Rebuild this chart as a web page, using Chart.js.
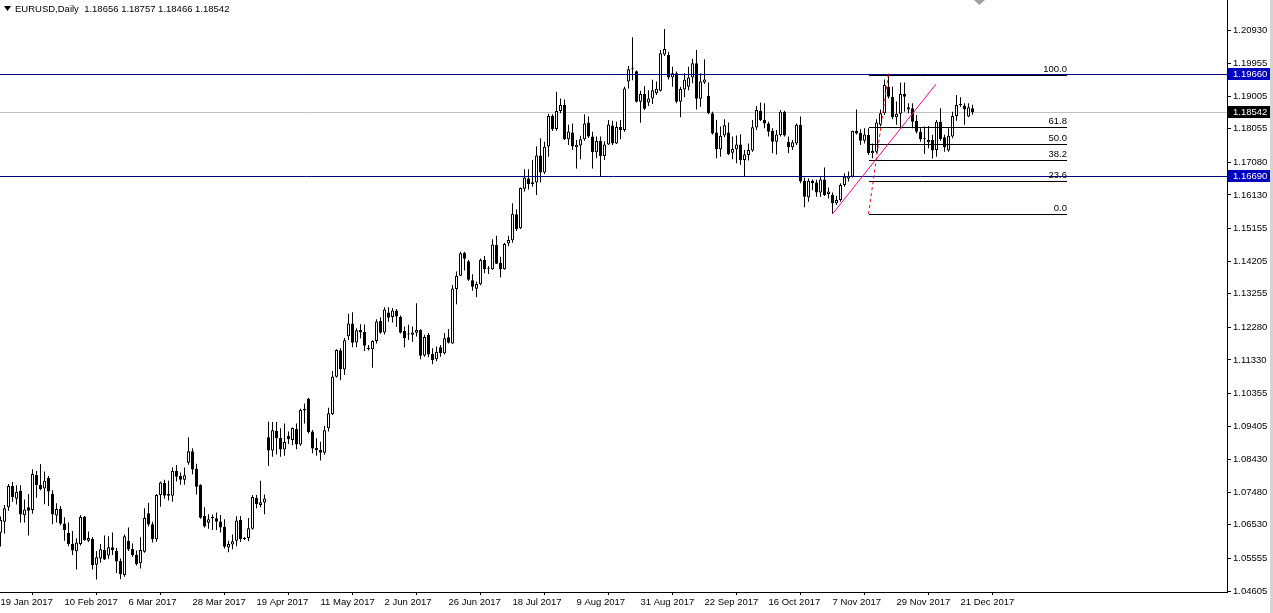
<!DOCTYPE html>
<html>
<head>
<meta charset="utf-8">
<script src="https://cdn.jsdelivr.net/npm/chart.js@4.4.1/dist/chart.umd.min.js"></script>
<style>
  html, body { margin: 0; padding: 0; background: #fff; }
</style>
</head>
<body>
<canvas id="chart" width="1273" height="613"></canvas>
<script>
// EURUSD daily bars, one row per 16 bars (row starts at the date in tickLabels)
const tickLabels = ['19 Jan 2017', '10 Feb 2017', '6 Mar 2017', '28 Mar 2017', '19 Apr 2017', '11 May 2017',
  '2 Jun 2017', '26 Jun 2017', '18 Jul 2017', '9 Aug 2017', '31 Aug 2017', '22 Sep 2017',
  '16 Oct 2017', '7 Nov 2017', '29 Nov 2017', '21 Dec 2017'];
const barsPerTick = 16;

const open = [
  1.0630,1.0662,1.0704,1.0766,1.0729,1.0752,1.0681,1.0704,1.0696,1.0798,1.0769,1.0759,1.0789,1.0743,1.0680,1.0700,
  1.0657,1.0629,1.0597,1.0576,1.0597,1.0677,1.0607,1.0612,1.0537,1.0555,1.0580,1.0564,1.0588,1.0577,1.0548,1.0507,
  1.0606,1.0583,1.0565,1.0541,1.0575,1.0687,1.0655,1.0611,1.0739,1.0775,1.0743,1.0738,1.0810,1.0795,1.0784,1.0834,
  1.0867,1.0816,1.0769,1.0679,1.0659,1.0676,1.0672,1.0663,1.0647,1.0587,1.0596,1.0607,1.0667,1.0615,1.0615,1.0642,
  1.0731,1.0711,1.0718,1.0908,1.0869,1.0926,1.0906,1.0872,1.0912,1.0900,1.0932,1.0887,1.0986,1.1019,1.0925,1.0877,
  1.0871,1.0863,1.0934,1.0975,1.1084,1.1161,1.1105,1.1202,1.1239,1.1184,1.1220,1.1214,1.1168,1.1164,1.1188,1.1247,
  1.1213,1.1271,1.1258,1.1277,1.1258,1.1217,1.1209,1.1206,1.1212,1.1220,1.1146,1.1206,1.1150,1.1135,1.1170,1.1152,
  1.1199,1.1181,1.1339,1.1378,1.1444,1.1420,1.1365,1.1340,1.1353,1.1424,1.1400,1.1397,1.1467,1.1416,1.1397,1.1472,
  1.1481,1.1557,1.1516,1.1631,1.1661,1.1644,1.1649,1.1728,1.1678,1.1754,1.1843,1.1805,1.1857,1.1875,1.1775,1.1795,
  1.1752,1.1757,1.1775,1.1824,1.1783,1.1737,1.1770,1.1726,1.1760,1.1815,1.1763,1.1811,1.1802,1.1943,1.1981,1.1973,
  1.1884,1.1907,1.1882,1.1894,1.1909,1.1916,1.2022,1.2020,1.1955,1.1967,1.1884,1.1920,1.1928,1.1955,1.1996,1.1893,
  1.1940,1.1901,1.1851,1.1795,1.1746,1.1786,1.1795,1.1736,1.1746,1.1760,1.1715,1.1729,1.1742,1.1809,1.1858,1.1831,
  1.1821,1.1800,1.1768,1.1787,1.1855,1.1768,1.1752,1.1763,1.1817,1.1654,1.1606,1.1654,1.1649,1.1620,1.1658,1.1616,
  1.1613,1.1589,1.1598,1.1642,1.1661,1.1666,1.1799,1.1794,1.1771,1.1788,1.1734,1.1739,1.1817,1.1851,1.1928,1.1899,
  1.1839,1.1849,1.1907,1.1862,1.1865,1.1828,1.1797,1.1778,1.1766,1.1773,1.1744,1.1826,1.1781,1.1742,1.1783,1.1843,
  1.1878,1.1873,1.1841,1.18656
];
const high = [
  1.0677,1.0711,1.0772,1.0778,1.0768,1.0768,1.0727,1.0743,1.0815,1.0810,1.0830,1.0808,1.0795,1.0754,1.0716,1.0708,
  1.0675,1.0660,1.0635,1.0614,1.0682,1.0679,1.0634,1.0617,1.0577,1.0597,1.0622,1.0620,1.0631,1.0586,1.0555,1.0625,
  1.0645,1.0599,1.0578,1.0617,1.0701,1.0717,1.0662,1.0743,1.0779,1.0784,1.0781,1.0820,1.0827,1.0805,1.0820,1.0908,
  1.0876,1.0831,1.0771,1.0704,1.0684,1.0683,1.0689,1.0682,1.0669,1.0607,1.0625,1.0678,1.0679,1.0618,1.0673,1.0740,
  1.0740,1.0781,1.0741,1.0953,1.0952,1.0952,1.0934,1.0948,1.0925,1.0936,1.0948,1.0991,1.1006,1.1023,1.0929,1.0905,
  1.0895,1.0941,1.0994,1.1101,1.1164,1.1167,1.1197,1.1267,1.1272,1.1225,1.1237,1.1236,1.1176,1.1190,1.1251,1.1257,
  1.1286,1.1286,1.1284,1.1281,1.1262,1.1230,1.1235,1.1230,1.1298,1.1222,1.1206,1.1211,1.1167,1.1172,1.1176,1.1211,
  1.1223,1.1351,1.1390,1.1448,1.1448,1.1424,1.1382,1.1361,1.1428,1.1435,1.1406,1.1484,1.1494,1.1433,1.1474,1.1494,
  1.1589,1.1571,1.1635,1.1688,1.1688,1.1715,1.1755,1.1778,1.1768,1.1849,1.1848,1.1913,1.1894,1.1891,1.1817,1.1821,
  1.1773,1.1785,1.1848,1.1841,1.1797,1.1783,1.1783,1.1769,1.1831,1.1829,1.1826,1.1831,1.1928,1.1988,1.2072,1.1975,
  1.1916,1.1930,1.1918,1.1948,1.1943,1.2035,1.2096,1.2030,1.1986,1.1972,1.1928,1.1967,1.1986,1.2009,1.2035,1.1967,
  1.2008,1.1940,1.1855,1.1831,1.1812,1.1833,1.1824,1.1783,1.1786,1.1790,1.1744,1.1763,1.1831,1.1872,1.1882,1.1880,
  1.1826,1.1807,1.1802,1.1860,1.1858,1.1783,1.1773,1.1821,1.1841,1.1664,1.1661,1.1658,1.1657,1.1668,1.1693,1.1635,
  1.1620,1.1610,1.1647,1.1676,1.1681,1.1800,1.1862,1.1804,1.1807,1.1807,1.1763,1.1833,1.1862,1.1949,1.1966,1.1928,
  1.1885,1.1940,1.1940,1.1880,1.1880,1.1846,1.1807,1.1812,1.1814,1.1788,1.1831,1.1865,1.1788,1.1807,1.1855,1.1904,
  1.1897,1.1880,1.1880,1.18757
];
const low = [
  1.0590,1.0628,1.0694,1.0720,1.0712,1.0660,1.0660,1.0622,1.0685,1.0732,1.0754,1.0713,1.0708,1.0655,1.0660,1.0652,
  1.0607,1.0591,1.0565,1.0523,1.0593,1.0607,1.0603,1.0523,1.0494,1.0543,1.0551,1.0554,1.0565,1.0513,1.0495,1.0502,
  1.0577,1.0560,1.0535,1.0526,1.0572,1.0648,1.0602,1.0604,1.0706,1.0729,1.0724,1.0720,1.0779,1.0770,1.0770,1.0828,
  1.0800,1.0741,1.0671,1.0645,1.0642,1.0638,1.0638,1.0631,1.0584,1.0573,1.0582,1.0591,1.0603,1.0609,1.0605,1.0639,
  1.0701,1.0704,1.0684,1.0824,1.0851,1.0858,1.0851,1.0854,1.0888,1.0885,1.0873,1.0883,1.0948,1.0919,1.0861,1.0854,
  1.0840,1.0857,1.0925,1.0973,1.1082,1.1074,1.1089,1.1191,1.1170,1.1170,1.1196,1.1159,1.1160,1.1110,1.1181,1.1209,
  1.1207,1.1244,1.1242,1.1229,1.1210,1.1169,1.1191,1.1186,1.1201,1.1135,1.1142,1.1141,1.1120,1.1129,1.1142,1.1149,
  1.1181,1.1180,1.1295,1.1377,1.1393,1.1363,1.1334,1.1315,1.1350,1.1385,1.1383,1.1395,1.1412,1.1373,1.1395,1.1464,
  1.1474,1.1508,1.1514,1.1623,1.1629,1.1637,1.1613,1.1649,1.1674,1.1724,1.1799,1.1800,1.1851,1.1773,1.1758,1.1744,
  1.1690,1.1717,1.1771,1.1779,1.1690,1.1720,1.1666,1.1715,1.1758,1.1758,1.1761,1.1775,1.1797,1.1923,1.1947,1.1882,
  1.1823,1.1860,1.1872,1.1878,1.1904,1.1914,1.2017,1.1949,1.1928,1.1880,1.1839,1.1897,1.1918,1.1938,1.1862,1.1870,
  1.1936,1.1848,1.1789,1.1720,1.1724,1.1781,1.1729,1.1717,1.1705,1.1700,1.1668,1.1713,1.1739,1.1802,1.1828,1.1807,
  1.1783,1.1734,1.1731,1.1783,1.1783,1.1734,1.1744,1.1758,1.1647,1.1577,1.1593,1.1627,1.1608,1.1608,1.1610,1.1603,
  1.1558,1.1584,1.1593,1.1637,1.1652,1.1664,1.1789,1.1758,1.1763,1.1729,1.1720,1.1734,1.1812,1.1846,1.1894,1.1833,
  1.1817,1.1807,1.1855,1.1851,1.1807,1.1792,1.1768,1.1732,1.1749,1.1719,1.1724,1.1771,1.1739,1.1739,1.1778,1.1829,
  1.1870,1.1817,1.1839,1.18466
];
const close = [
  1.0667,1.0701,1.0766,1.0733,1.0749,1.0683,1.0698,1.0694,1.0801,1.0769,1.0757,1.0781,1.0750,1.0683,1.0699,1.0656,
  1.0638,1.0597,1.0578,1.0602,1.0676,1.0609,1.0615,1.0536,1.0559,1.0582,1.0552,1.0588,1.0579,1.0546,1.0509,1.0620,
  1.0581,1.0565,1.0539,1.0580,1.0673,1.0654,1.0611,1.0740,1.0776,1.0738,1.0738,1.0810,1.0793,1.0784,1.0797,1.0867,
  1.0814,1.0764,1.0674,1.0648,1.0669,1.0672,1.0662,1.0645,1.0589,1.0597,1.0605,1.0666,1.0612,1.0611,1.0643,1.0734,
  1.0714,1.0719,1.0730,1.0869,1.0928,1.0905,1.0872,1.0894,1.0902,1.0935,1.0887,1.0987,1.0990,1.0923,1.0875,1.0871,
  1.0863,1.0928,1.0978,1.1085,1.1162,1.1106,1.1190,1.1239,1.1183,1.1219,1.1213,1.1174,1.1164,1.1188,1.1245,1.1212,
  1.1280,1.1256,1.1277,1.1259,1.1212,1.1196,1.1207,1.1213,1.1220,1.1145,1.1200,1.1149,1.1133,1.1157,1.1152,1.1196,
  1.1183,1.1341,1.1378,1.1443,1.1427,1.1366,1.1346,1.1354,1.1424,1.1397,1.1398,1.1469,1.1413,1.1397,1.1470,1.1482,
  1.1558,1.1514,1.1633,1.1664,1.1645,1.1650,1.1728,1.1678,1.1753,1.1843,1.1805,1.1857,1.1875,1.1775,1.1798,1.1754,
  1.1759,1.1775,1.1821,1.1783,1.1737,1.1770,1.1726,1.1760,1.1818,1.1763,1.1811,1.1802,1.1923,1.1979,1.1979,1.1884,
  1.1907,1.1864,1.1894,1.1918,1.1922,1.2025,1.2038,1.1955,1.1967,1.1884,1.1921,1.1948,1.1955,1.1996,1.1893,1.1943,
  1.1949,1.1851,1.1792,1.1746,1.1785,1.1816,1.1732,1.1747,1.1760,1.1715,1.1731,1.1744,1.1810,1.1860,1.1831,1.1821,
  1.1797,1.1768,1.1789,1.1855,1.1786,1.1752,1.1766,1.1817,1.1652,1.1608,1.1654,1.1647,1.1620,1.1658,1.1613,1.1623,
  1.1589,1.1598,1.1642,1.1666,1.1668,1.1799,1.1792,1.1771,1.1789,1.1734,1.1741,1.1824,1.1851,1.1933,1.1899,1.1839,
  1.1849,1.1907,1.1899,1.1868,1.1826,1.1797,1.1775,1.1775,1.1773,1.1742,1.1826,1.1776,1.1752,1.1785,1.1843,1.1875,
  1.1875,1.1862,1.1868,1.18542
];

const priceTicks = [1.20930, 1.19955, 1.19005, 1.18055, 1.17080, 1.16130, 1.15155, 1.14205, 1.13255,
  1.12280, 1.11330, 1.10355, 1.09405, 1.08430, 1.07480, 1.06530, 1.05555, 1.04605];
const hLines = [1.19660, 1.16690];
const fibLevels = [0.0, 23.6, 38.2, 50.0, 61.8, 100.0];
const fibLow = 1.15576, fibHigh = 1.19660;
const fibBars = [217, 266.6];           // fib level lines run between these bars
const fibAnchor = [217, 222];            // dashed line: low at first bar, high at second
const trendLine = [[208, 1.15576], [233.9, 1.19359]];
const symbol = 'EURUSD,Daily';

const last = open.length - 1;
const bid = close[last];

const bodies = open.map((o, i) => ({ x: i, y: [o, close[i]] }));
const wicks = open.map((o, i) => ({ x: i, y: [low[i], high[i]] }));
const bodyFill = open.map((o, i) => close[i] >= o ? '#ffffff' : '#000000');

const FONT = { family: 'Liberation Sans, Arial, sans-serif', size: 9.5 };
const NAVY = '#000080';
const LABEL_BLUE = '#0000c0';

const decor = {
  id: 'decor',
  beforeDatasetsDraw(chart) {
    const { ctx, chartArea: a, scales: { y } } = chart;
    const yb = Math.round(y.getPixelForValue(bid)) + 0.5;
    ctx.save();
    ctx.strokeStyle = '#c0c0c0';
    ctx.lineWidth = 1;
    ctx.beginPath(); ctx.moveTo(a.left, yb); ctx.lineTo(a.right, yb); ctx.stroke();
    ctx.restore();
  },
  afterDatasetsDraw(chart) {
    const { ctx, chartArea: a, scales: { x, y } } = chart;
    const py = v => Math.round(y.getPixelForValue(v)) + 0.5;
    ctx.save();
    ctx.lineWidth = 1;

    // horizontal lines
    ctx.strokeStyle = NAVY;
    hLines.forEach(v => {
      ctx.beginPath(); ctx.moveTo(a.left, py(v)); ctx.lineTo(a.right, py(v)); ctx.stroke();
    });

    // fibonacci levels
    const fx0 = Math.round(x.getPixelForValue(fibBars[0]));
    const fx1 = Math.round(x.getPixelForValue(fibBars[1]));
    ctx.strokeStyle = '#000';
    ctx.fillStyle = '#000';
    ctx.font = FONT.size + 'px ' + FONT.family;
    ctx.textAlign = 'right';
    ctx.textBaseline = 'bottom';
    fibLevels.forEach(l => {
      const v = fibLow + (fibHigh - fibLow) * l / 100;
      const yy = py(v) + (l === 100 ? 1 : 0);
      ctx.beginPath(); ctx.moveTo(fx0, yy); ctx.lineTo(fx1, yy); ctx.stroke();
      ctx.fillText(l.toFixed(1), fx1, yy - 1);
    });

    // fib anchor line (dashed red)
    ctx.strokeStyle = '#ff0000';
    ctx.setLineDash([3, 3]);
    ctx.beginPath();
    ctx.moveTo(x.getPixelForValue(fibAnchor[0]), y.getPixelForValue(fibLow));
    ctx.lineTo(x.getPixelForValue(fibAnchor[1]), y.getPixelForValue(fibHigh));
    ctx.stroke();
    ctx.setLineDash([]);

    // trend line
    ctx.strokeStyle = '#ff0090';
    ctx.beginPath();
    ctx.moveTo(x.getPixelForValue(trendLine[0][0]), y.getPixelForValue(trendLine[0][1]));
    ctx.lineTo(x.getPixelForValue(trendLine[1][0]), y.getPixelForValue(trendLine[1][1]));
    ctx.stroke();
    ctx.restore();
  },
  afterDraw(chart) {
    const { ctx, chartArea: a, scales: { y } } = chart;
    ctx.save();
    ctx.font = FONT.size + 'px ' + FONT.family;
    ctx.textBaseline = 'middle';
    ctx.textAlign = 'left';
    const tag = (v, bg) => {
      const yy = Math.round(y.getPixelForValue(v));
      ctx.fillStyle = bg;
      ctx.fillRect(a.right + 1, yy - 6, 42, 12);
      ctx.fillStyle = '#fff';
      ctx.fillText(v.toFixed(5), a.right + 6, yy);
    };
    hLines.forEach(v => tag(v, LABEL_BLUE));
    tag(bid, '#000');

    // title
    ctx.fillStyle = '#000';
    ctx.beginPath(); ctx.moveTo(4, 6); ctx.lineTo(11, 6); ctx.lineTo(7.5, 11); ctx.closePath(); ctx.fill();
    const ohlc = [open[last], high[last], low[last], close[last]].map(v => v.toFixed(5)).join(' ');
    ctx.fillText(symbol + '  ' + ohlc, 15, 9);

    // shift marker
    ctx.fillStyle = '#a0a0a0';
    ctx.beginPath(); ctx.moveTo(974, 0); ctx.lineTo(985, 0); ctx.lineTo(979.5, 5); ctx.closePath(); ctx.fill();

    // window edge
    ctx.fillStyle = '#d4d4d4';
    ctx.fillRect(1270, 0, 3, 613);
    ctx.restore();
  }
};

new Chart(document.getElementById('chart'), {
  type: 'bar',
  data: {
    datasets: [
      {
        data: bodies,
        backgroundColor: bodyFill,
        borderColor: '#000',
        borderWidth: 1,
        borderSkipped: false,
        barThickness: 3,
        maxBarThickness: 3,
        minBarLength: 1,
        inflateAmount: 0,
        grouped: false,
        order: 0
      },
      {
        data: wicks,
        backgroundColor: '#000',
        borderWidth: 0,
        barThickness: 1,
        maxBarThickness: 1,
        inflateAmount: 0,
        grouped: false,
        order: 1
      }
    ]
  },
  options: {
    responsive: false,
    animation: false,
    layout: { padding: 0 },
    plugins: { legend: { display: false }, tooltip: { enabled: false } },
    scales: {
      x: {
        type: 'linear',
        min: -0.125,
        max: 306.625,
        offset: false,
        afterBuildTicks: s => { s.ticks = tickLabels.map((t, i) => ({ value: i * barsPerTick })); },
        afterFit: s => { s.height = 21; s.paddingLeft = 0; s.paddingRight = 0; },
        ticks: {
          autoSkip: false,
          maxRotation: 0,
          align: 'start',
          padding: 2,
          color: '#000',
          font: FONT,
          callback: (v, i) => tickLabels[i]
        },
        grid: { drawOnChartArea: false, drawTicks: true, tickLength: 3, color: '#000' },
        border: { display: true, color: '#000' }
      },
      y: {
        position: 'right',
        min: 1.04576,
        max: 1.21803,
        afterBuildTicks: s => { s.ticks = priceTicks.map(v => ({ value: v })); },
        afterFit: s => { s.width = 46; s.paddingTop = 0; s.paddingBottom = 0; },
        ticks: {
          padding: 2,
          color: '#000',
          font: FONT,
          callback: v => v.toFixed(5)
        },
        grid: { drawOnChartArea: false, drawTicks: true, tickLength: 4, color: '#000' },
        border: { display: true, color: '#000' }
      }
    }
  },
  plugins: [decor]
});
</script>
</body>
</html>
